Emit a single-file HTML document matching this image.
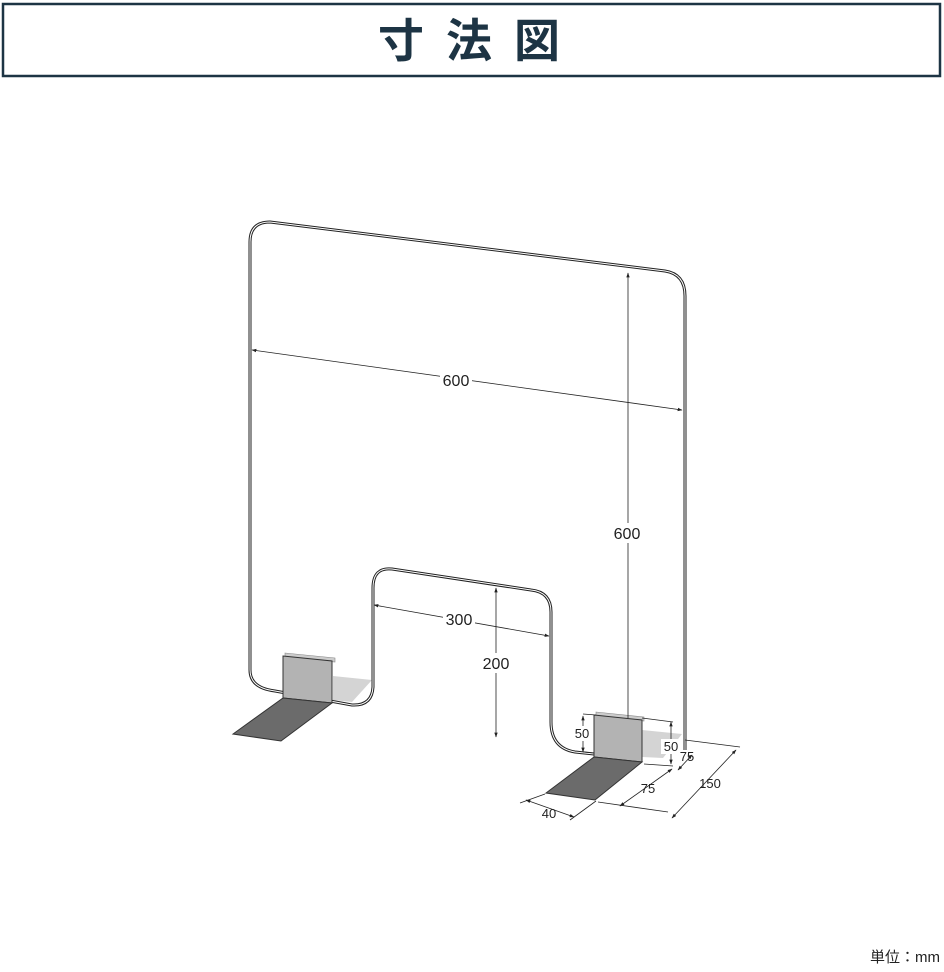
<!DOCTYPE html>
<html><head><meta charset="utf-8"><style>
body{margin:0;background:#fff;width:944px;height:967px;overflow:hidden;font-family:"Liberation Sans","Noto Sans CJK JP",sans-serif}
</style></head><body>
<svg width="944" height="967" viewBox="0 0 944 967" xmlns="http://www.w3.org/2000/svg">
<defs>
<marker id="a" viewBox="0 0 10 10" refX="9" refY="5" markerWidth="6" markerHeight="6" orient="auto-start-reverse"><path d="M0,1.5 L10,5 L0,8.5 z" fill="#222"/></marker>
</defs>
<rect x="3" y="4" width="937" height="72" fill="#fff" stroke="#1d3444" stroke-width="2.5"/>
<text x="480" y="57" text-anchor="middle" font-size="46" font-weight="bold" fill="#1d3444" font-family="Noto Sans CJK JP,sans-serif" letter-spacing="22">寸法図</text>

<polygon points="333,676 372,680 352,702 333,700" fill="#d4d4d4"/>
<polygon points="642,730 682,734 663,758 642,757" fill="#d4d4d4"/>

<g fill="none" stroke-linejoin="round">
<path d="M250,670 L250,242 Q250,222 270,222 L665,271 Q685,274 685,296 L685,750 M594,754 L575,752 Q551,748 551,722 L551,612 Q551,592 531,590 L392,569 Q373,567 373,588 L373,687 Q372,706 352,705 L275,691 Q250,688 250,670" stroke="#222" stroke-width="3"/>
<path d="M250,670 L250,242 Q250,222 270,222 L665,271 Q685,274 685,296 L685,750 M594,754 L575,752 Q551,748 551,722 L551,612 Q551,592 531,590 L392,569 Q373,567 373,588 L373,687 Q372,706 352,705 L275,691 Q250,688 250,670" stroke="#fff" stroke-width="1"/>
</g>

<polygon points="285,653 335,658 335,662 285,657" fill="#ccc" stroke="#888" stroke-width="0.6"/>
<polygon points="283,656 332,661 332,703 283,698" fill="#b3b3b3" stroke="#333" stroke-width="1"/>
<polygon points="283,698 332,703 281,741 233,734" fill="#6b6b6b" stroke="#333" stroke-width="1"/>
<polygon points="596,712 644,717 644,721 596,716" fill="#ccc" stroke="#888" stroke-width="0.6"/>
<polygon points="594,715 642,720 642,762 594,757" fill="#b3b3b3" stroke="#333" stroke-width="1"/>
<polygon points="594,757 642,762 595,800 546,793" fill="#6b6b6b" stroke="#333" stroke-width="1"/>

<g stroke="#222" stroke-width="0.8" fill="none">
<line x1="252" y1="350" x2="682" y2="410" marker-start="url(#a)" marker-end="url(#a)"/>
<line x1="628" y1="273" x2="628" y2="718" marker-start="url(#a)"/>
<line x1="374" y1="605" x2="549" y2="636" marker-start="url(#a)" marker-end="url(#a)"/>
<line x1="496" y1="588" x2="496" y2="737" marker-start="url(#a)" marker-end="url(#a)"/>
<line x1="583" y1="716" x2="583" y2="752" marker-start="url(#a)" marker-end="url(#a)"/>
<line x1="583" y1="714" x2="596" y2="715"/>
<line x1="583" y1="752" x2="594" y2="753"/>
<line x1="642" y1="718" x2="673" y2="722"/>
<line x1="671" y1="722" x2="671" y2="764" marker-start="url(#a)" marker-end="url(#a)"/>
<line x1="644" y1="764" x2="673" y2="766"/>
<line x1="678" y1="770" x2="692" y2="755" marker-start="url(#a)" marker-end="url(#a)"/>
<line x1="685" y1="740" x2="740" y2="747"/>
<line x1="620" y1="806" x2="672" y2="769" marker-start="url(#a)" marker-end="url(#a)"/>
<line x1="598" y1="802" x2="668" y2="812"/>
<line x1="672" y1="818" x2="736" y2="750" marker-start="url(#a)" marker-end="url(#a)"/>
<line x1="526" y1="800" x2="574" y2="817" marker-start="url(#a)" marker-end="url(#a)"/>
<line x1="520" y1="803" x2="545" y2="794"/>
<line x1="570" y1="820" x2="596" y2="801"/>
</g>
<g font-size="16" fill="#222" text-anchor="middle">
<rect x="440" y="370" width="32" height="18" fill="#fff"/>
<text x="456" y="386">600</text>
<rect x="610" y="523" width="36" height="20" fill="#fff"/>
<text x="627" y="539">600</text>
<rect x="443" y="610" width="32" height="18" fill="#fff"/>
<text x="459" y="625">300</text>
<rect x="480" y="653" width="34" height="20" fill="#fff"/>
<text x="496" y="669">200</text>
<g font-size="13">
<rect x="572" y="726" width="20" height="15" fill="#fff"/>
<text x="582" y="738">50</text>
<rect x="661" y="739" width="20" height="15" fill="#fff"/>
<text x="671" y="751">50</text>
<text x="687" y="761">75</text>
<text x="648" y="793">75</text>
<text x="710" y="788">150</text>
<text x="549" y="818">40</text>
</g>
</g>
<text x="940" y="962" text-anchor="end" font-size="15" fill="#222">単位：mm</text>
</svg>
</body></html>
